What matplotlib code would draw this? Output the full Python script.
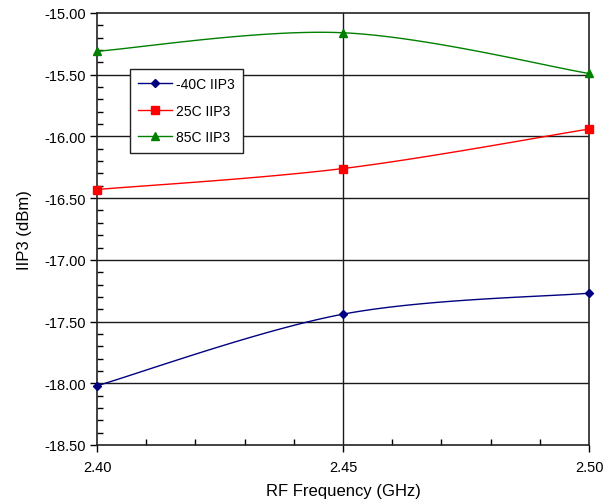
import numpy as np
import matplotlib
matplotlib.use("Agg")
import matplotlib.pyplot as plt
from matplotlib.ticker import MultipleLocator, FormatStrFormatter

plt.rcParams['font.family'] = ['Liberation Sans', 'DejaVu Sans']

freq = [2.40, 2.45, 2.50]
iip3_m40 = [-18.02, -17.44, -17.27]
iip3_25 = [-16.43, -16.26, -15.94]
iip3_85 = [-15.31, -15.16, -15.49]
labels = ["-40C IIP3", "25C IIP3", "85C IIP3"]
colors = ["#000080", "#FF0000", "#008000"]
markers = ["D", "s", "^"]

xlim = (2.40, 2.50)
ylim = (-18.5, -15.0)


def smooth(x, y, n=40):
    # Excel-style smoothed line (Catmull-Rom Bezier in normalized space)
    x = np.asarray(x, float); y = np.asarray(y, float)
    xs = (x - xlim[0]) / (xlim[1] - xlim[0]) * 492
    ys = (y - ylim[0]) / (ylim[1] - ylim[0]) * 432
    P = np.column_stack([xs, ys])
    out = []
    for i in range(len(P) - 1):
        p0 = P[i - 1] if i > 0 else P[i]
        p1 = P[i]; p2 = P[i + 1]
        p3 = P[i + 2] if i + 2 < len(P) else P[i + 1]
        c1 = p1 + (p2 - p0) / 6.0
        c2 = p2 - (p3 - p1) / 6.0
        t = np.linspace(0, 1, n)[:, None]
        seg = ((1 - t) ** 3) * p1 + 3 * ((1 - t) ** 2) * t * c1 + 3 * (1 - t) * t ** 2 * c2 + t ** 3 * p2
        out.append(seg if i == 0 else seg[1:])
    B = np.vstack(out)
    bx = B[:, 0] / 492 * (xlim[1] - xlim[0]) + xlim[0]
    by = B[:, 1] / 432 * (ylim[1] - ylim[0]) + ylim[0]
    return bx, by


fig = plt.figure(figsize=(6.15, 5.02), dpi=100)
ax = fig.add_axes([97 / 615, 56 / 502, 492 / 615, 432 / 502])

for yv in np.arange(-18.0, -15.0, 0.5):
    ax.axhline(yv, color="#1a1a1a", lw=1.0, zorder=1)
ax.axvline(2.45, color="#1a1a1a", lw=1.0, zorder=1)

series = [iip3_m40, iip3_25, iip3_85]
for vals, lab, c, m in zip(series, labels, colors, markers):
    sx, sy = smooth(freq, vals)
    ax.plot(sx, sy, color=c, lw=1.0, zorder=3)
    ms = 4.5 if m == "D" else 6
    ax.plot(freq, vals, linestyle="none", marker=m, color=c, ms=ms,
            markeredgecolor=c, zorder=4, clip_on=False)
    ax.plot([], [], color=c, lw=1.0, marker=m, ms=ms, label=lab)

ax.set_xlim(*xlim)
ax.set_ylim(*ylim)
ax.xaxis.set_major_locator(MultipleLocator(0.05))
ax.xaxis.set_minor_locator(MultipleLocator(0.01))
ax.yaxis.set_major_locator(MultipleLocator(0.5))
ax.yaxis.set_minor_locator(MultipleLocator(0.1))
ax.xaxis.set_major_formatter(FormatStrFormatter('%.2f'))
ax.yaxis.set_major_formatter(FormatStrFormatter('%.2f'))
ax.tick_params(axis='both', which='major', direction='out', length=5, width=1,
               labelsize=10.5, color='black')
ax.tick_params(axis='both', which='minor', direction='in', length=4, width=1, color='black')
ax.tick_params(axis='x', which='major', pad=6)
ax.tick_params(axis='y', which='major', pad=3)
for s in ax.spines.values():
    s.set_linewidth(1.2)
    s.set_color('#222222')

ax.set_xlabel("RF Frequency (GHz)", fontsize=12, labelpad=6)
ax.set_ylabel("IIP3 (dBm)", fontsize=12, labelpad=9)

leg = ax.legend(loc='upper left', bbox_to_anchor=(26 / 492, 1 - 49 / 432),
                frameon=True, fancybox=False, edgecolor='#222222', framealpha=1,
                fontsize=10, handlelength=2.4, borderpad=0.6, labelspacing=0.9,
                handletextpad=0.3)
leg.get_frame().set_linewidth(1.0)
leg.set_zorder(5)

fig.savefig("out.png", dpi=100)
